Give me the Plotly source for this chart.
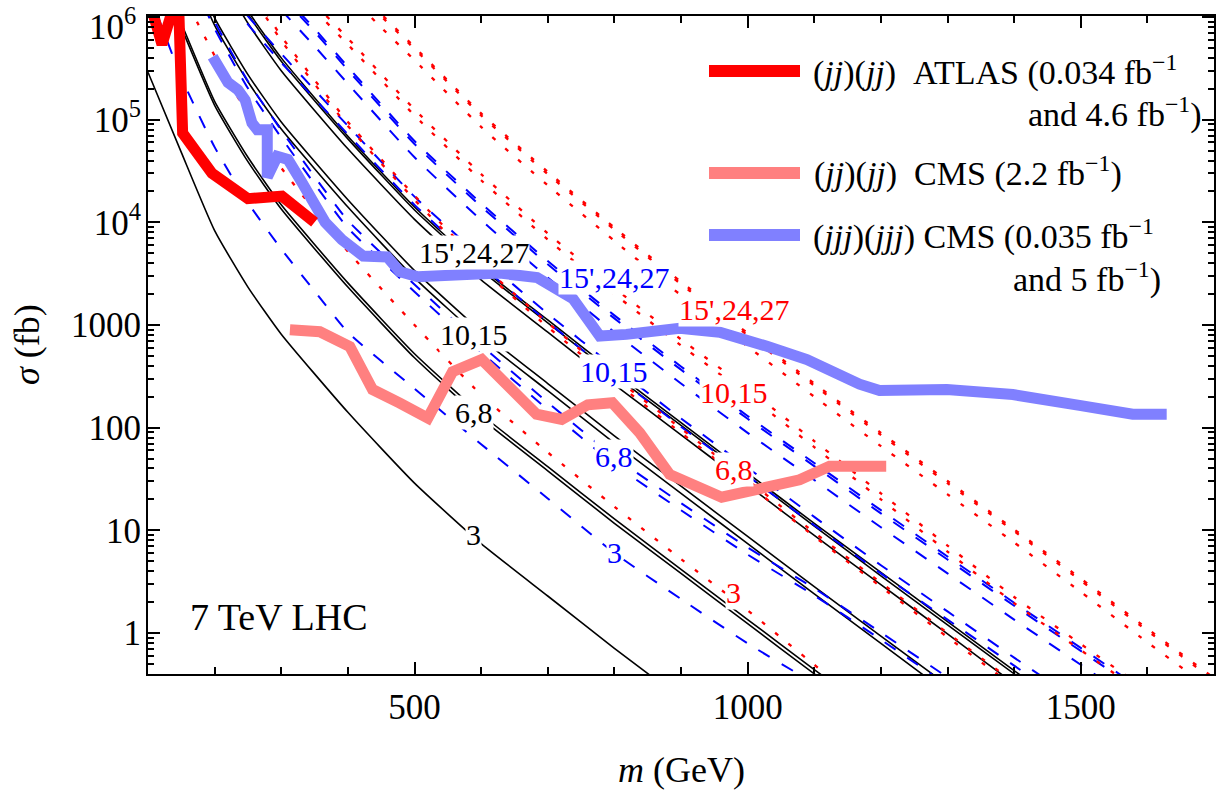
import math
import plotly.graph_objects as go

FONT = "Liberation Serif, Times New Roman, serif"

# ---------------- data ----------------
# Black solid curves
B3_m = [100, 150, 200, 250, 300, 400, 500, 600, 700, 800, 900]
B3_s = [2.9e5, 4.8e4, 8.3e3, 2.34e3, 813, 141, 28.8, 7.41, 2.29, 0.708, 0.229]

B68_m = [100, 150, 200, 250, 300, 400, 500, 600, 700, 800, 900, 1000, 1100, 1200]
B6_s = [4.8e6, 7.9e5, 1.38e5, 3.9e4, 1.35e4, 2.34e3, 479, 123, 38, 11.7, 3.8, 1.23, 0.40, 0.132]
B8_s = [5.2e6, 8.7e5, 1.51e5, 4.3e4, 1.48e4, 2.57e3, 525, 135, 41.7, 12.9, 4.17, 1.35, 0.44, 0.145]

B1015_m = [150, 200, 250, 300, 400, 500, 600, 700, 800, 900, 1000, 1100, 1200, 1300]
B10_s = [4.8e6, 8.3e5, 2.34e5, 8.1e4, 1.41e4, 2.88e3, 741, 229, 70.8, 22.9, 7.41, 2.40, 0.79, 0.26]
B15_s = [5.6e6, 9.8e5, 2.75e5, 9.5e4, 1.66e4, 3.39e3, 871, 269, 83.2, 26.9, 8.71, 2.82, 0.93, 0.31]

Bhi_m = [200, 250, 300, 400, 500, 600, 700, 800, 900, 1000, 1100, 1200, 1300, 1400, 1500]
B15p_s = [3.1e6, 8.7e5, 3.0e5, 5.2e4, 1.07e4, 2.75e3, 851, 263, 85.1, 27.5, 8.91, 2.95, 0.98, 0.32, 0.105]
B24_s = [3.8e6, 1.07e6, 3.7e5, 6.5e4, 1.32e4, 3.4e3, 1.05e3, 324, 105, 34, 11, 3.6, 1.2, 0.40, 0.135]
B27_s = [4.1e6, 1.15e6, 4.0e5, 6.9e4, 1.41e4, 3.6e3, 1.12e3, 347, 112, 36, 11.7, 3.9, 1.29, 0.43, 0.145]

# Blue dashed curves
BL3_m = [100, 125, 150, 200, 250, 300, 350, 400, 500, 600, 700, 800, 900, 1000, 1100, 1200]
BL3_s = [1.78e6, 6.8e5, 2.57e5, 5.4e4, 1.55e4, 5.5e3, 2.14e3, 850, 240, 69, 20.4, 6.0, 2.14, 0.79, 0.32, 0.117]

BL68_m = [150, 200, 250, 300, 350, 400, 500, 600, 700, 800, 900, 1000, 1100, 1200, 1300, 1400]
BL6_s = [3.8e6, 7.7e5, 2.02e5, 6.7e4, 2.37e4, 8.8e3, 2.11e3, 543, 150, 44, 15.7, 5.8, 2.32, 0.86, 0.31, 0.11]
BL8_s = [4.4e6, 9.0e5, 2.37e5, 7.9e4, 2.79e4, 1.04e4, 2.48e3, 638, 176, 52, 18.4, 6.8, 2.72, 1.01, 0.37, 0.135]

BL1015_m = [200, 250, 300, 400, 500, 600, 700, 800, 900, 1000, 1100, 1200, 1300, 1400, 1500]
BL10_s = [2.3e6, 8.5e5, 3.6e5, 7.2e4, 1.48e4, 3.8e3, 1.07e3, 324, 102, 33.9, 11.2, 3.8, 1.35, 0.48, 0.174]
BL15_s = [2.75e6, 1.02e6, 4.4e5, 8.7e4, 1.78e4, 4.6e3, 1.29e3, 389, 123, 40.7, 13.5, 4.57, 1.62, 0.575, 0.209]

BLhi_m = [300, 350, 400, 500, 600, 700, 800, 900, 1000, 1100, 1200, 1300, 1400, 1500, 1600]
BL15p_s = [1.17e6, 5.2e5, 2.24e5, 4.3e4, 1.05e4, 2.9e3, 850, 269, 89, 30.9, 10.7, 3.8, 1.35, 0.49, 0.178]
BL24_s = [1.6e6, 7.2e5, 3.05e5, 5.8e4, 1.43e4, 3.9e3, 1.16e3, 367, 122, 42.2, 14.6, 5.19, 1.84, 0.668, 0.243]
BL27_s = [1.72e6, 7.7e5, 3.27e5, 6.2e4, 1.53e4, 4.2e3, 1.24e3, 394, 130, 45.2, 15.7, 5.56, 1.97, 0.716, 0.26]

# Red dotted curves
R3_m = [150, 200, 250, 300, 400, 500, 600, 700, 800, 900, 1000, 1100, 1200]
R3_s = [1.78e6, 4.2e5, 1.12e5, 3.4e4, 5.2e3, 1.0e3, 209, 57.5, 17.0, 5.25, 1.66, 0.49, 0.151]

R68_m = [250, 300, 400, 500, 600, 700, 800, 900, 1000, 1100, 1200, 1300, 1400]
R6_s = [1.9e6, 5.9e5, 8.7e4, 1.66e4, 3.55e3, 955, 282, 89, 28.2, 8.7, 2.82, 0.91, 0.30]
R8_s = [2.1e6, 6.5e5, 9.5e4, 1.82e4, 3.9e3, 1.05e3, 309, 98, 30.9, 9.5, 3.09, 1.0, 0.33]

R1015_m = [350, 400, 500, 600, 700, 800, 900, 1000, 1100, 1200, 1300, 1400, 1500, 1600]
R10_s = [1.17e6, 5.4e5, 1.1e5, 2.57e4, 6.8e3, 2.0e3, 631, 209, 64.6, 20, 6.2, 1.95, 0.68, 0.24]
R15_s = [1.35e6, 6.2e5, 1.26e5, 2.95e4, 7.8e3, 2.29e3, 724, 240, 74, 22.9, 7.1, 2.24, 0.78, 0.275]

Rhi_m = [400, 450, 500, 600, 700, 800, 900, 1000, 1100, 1200, 1300, 1400, 1500, 1600, 1700, 1800]
R15p_s = [1.7e6, 7.9e5, 3.8e5, 8.5e4, 2.29e4, 6.6e3, 1.95e3, 617, 200, 66, 22.4, 7.6, 2.51, 0.81, 0.27, 0.09]
R24_s = [2.2e6, 1.02e6, 4.9e5, 1.1e5, 2.95e4, 8.5e3, 2.5e3, 794, 257, 85, 28.8, 9.8, 3.24, 1.05, 0.347, 0.115]
R27_s = [2.3e6, 1.07e6, 5.1e5, 1.15e5, 3.1e4, 8.9e3, 2.63e3, 832, 269, 89, 30.2, 10.2, 3.39, 1.10, 0.363, 0.12]

# Experimental limits
ATLAS_m = [104, 121, 139, 146, 152, 196, 250, 301, 350]
ATLAS_s = [1.3e6, 5.4e5, 1.3e6, 1.3e6, 7.4e4, 3.0e4, 1.7e4, 1.8e4, 1.0e4]

CMSjj_m = [313, 358, 403, 437, 478, 520, 557, 601, 683, 721, 760, 797, 838, 883, 961, 1078, 1123, 1208]
CMSjj_s = [900, 860, 615, 235, 173, 124, 350, 460, 135, 120, 167, 175, 89, 35, 21, 31, 42, 42]

CMSjjj_m = [197, 220, 235, 246, 256, 264, 279, 279, 294, 310, 331, 351, 366, 391, 423, 459, 478, 505,
            553, 628, 684, 738, 778, 818, 898, 958, 1029, 1089, 1168, 1198, 1299, 1398, 1498, 1578, 1629]
CMSjjj_s = [4.1e5, 2.3e5, 1.95e5, 1.55e5, 9.3e4, 8.0e4, 8.0e4, 2.75e4, 4.4e4, 4.1e4, 2.45e4, 1.4e4, 1.0e4,
            6.8e3, 4.7e3, 4.6e3, 3.3e3, 2.95e3, 3.1e3, 3.2e3, 2.9e3, 1.8e3, 780, 810, 930, 850, 620, 460,
            265, 230, 235, 210, 165, 135, 135]

# Axis ticks
X_TICKS = [500, 1000, 1500]
Y_TICKS = [1, 10, 100, 1000, 1e4, 1e5]
Y_TICK_TEXT = ["1", "10", "100", "1000", "10<sup>4</sup>", "10<sup>5</sup>"]
Y_TOP_TEXT = "10<sup>6</sup>"

# Curve labels: (text, mass, sigma, colour)
LABELS = [
    ("3", 589, 9.06, "black"), ("6,8", 589, 140, "black"),
    ("10,15", 590, 803, "black"), ("15',24,27", 590, 5050, "black"),
    ("3", 800, 6.05, "#0000FF"), ("6,8", 800, 52, "#0000FF"),
    ("10,15", 800, 351, "#0000FF"), ("15',24,27", 800, 2890, "#0000FF"),
    ("3", 979, 2.47, "#FF0000"), ("6,8", 979, 39, "#FF0000"),
    ("10,15", 979, 219, "#FF0000"), ("15',24,27", 980, 1406, "#FF0000"),
]

# ---------------- figure ----------------
fig = go.Figure()


def curve(m, s, color, dash, width, spline=True):
    fig.add_trace(go.Scatter(
        x=m, y=s, mode="lines", hoverinfo="skip", showlegend=False,
        line=dict(color=color, dash=dash, width=width,
                  shape="spline" if spline else "linear", smoothing=0.5)))


BLACK_DASH, BLUE_DASH, RED_DASH = "solid", "13px,14px", "4px,13px"
for m, s in [(B3_m, B3_s), (B68_m, B6_s), (B68_m, B8_s), (B1015_m, B10_s), (B1015_m, B15_s),
             (Bhi_m, B15p_s), (Bhi_m, B24_s), (Bhi_m, B27_s)]:
    curve(m, s, "black", BLACK_DASH, 1.6)
for m, s in [(BL3_m, BL3_s), (BL68_m, BL6_s), (BL68_m, BL8_s), (BL1015_m, BL10_s), (BL1015_m, BL15_s),
             (BLhi_m, BL15p_s), (BLhi_m, BL24_s), (BLhi_m, BL27_s)]:
    curve(m, s, "#0000FF", BLUE_DASH, 2)
for m, s in [(R3_m, R3_s), (R68_m, R6_s), (R68_m, R8_s), (R1015_m, R10_s), (R1015_m, R15_s),
             (Rhi_m, R15p_s), (Rhi_m, R24_s), (Rhi_m, R27_s)]:
    curve(m, s, "#FF0000", RED_DASH, 2.3)

curve(CMSjj_m, CMSjj_s, "#FF8080", "solid", 11, spline=False)
curve(CMSjjj_m, CMSjjj_s, "#8080FF", "solid", 11, spline=False)
curve(ATLAS_m, ATLAS_s, "#FF0000", "solid", 11, spline=False)

annotations = []
for text, m, s, col in LABELS:
    annotations.append(dict(x=m, y=math.log10(s), xref="x", yref="y", text=text, showarrow=False,
                            xanchor="center", yanchor="middle",
                            font=dict(family=FONT, size=30, color=col), bgcolor="white", borderpad=0))

annotations.append(dict(x=160, y=math.log10(1.44), xref="x", yref="y", text="7 TeV LHC", showarrow=False,
                        xanchor="left", yanchor="middle", font=dict(family=FONT, size=38, color="black")))


def px(X):
    return (X - 148) / 1066.0


def py(Y):
    return (674 - Y) / 658.0


# top y tick label, nudged down so it stays inside the page
annotations.append(dict(x=px(137), y=py(1), xref="paper", yref="paper", text=Y_TOP_TEXT,
                        xanchor="right", yanchor="top", showarrow=False, borderpad=0,
                        font=dict(family=FONT, size=35, color="black")))

# axis titles
annotations.append(dict(x=px(681), y=py(770), xref="paper", yref="paper", text="<i>m</i> (GeV)",
                        xanchor="center", yanchor="middle",
                        showarrow=False, font=dict(family=FONT, size=36, color="black")))
annotations.append(dict(x=px(27), y=py(345), xref="paper", yref="paper", text="<i>σ</i> (fb)",
                        xanchor="center", yanchor="middle",
                        textangle=-90, showarrow=False, font=dict(family=FONT, size=36, color="black")))

# legend
LEG = [("#FF0000", 71), ("#FF8080", 173), ("#8080FF", 235)]
shapes = []
for col, Y in LEG:
    shapes.append(dict(type="line", xref="paper", yref="paper", x0=px(709), x1=px(800), y0=py(Y), y1=py(Y),
                       line=dict(color=col, width=12)))
legfont = dict(family=FONT, size=34, color="black")
NB = "\u00a0"
annotations += [
    dict(x=px(811), y=py(70), xref="paper", yref="paper", xanchor="left", yanchor="middle",
         text="(<i>jj</i>)(<i>jj</i>)" + NB + NB + "ATLAS (0.034 fb<sup>−1</sup>", showarrow=False, font=legfont),
    dict(x=px(1204), y=py(113), xref="paper", yref="paper", xanchor="right", yanchor="middle",
         text="and 4.6 fb<sup>−1</sup>)", showarrow=False, font=legfont),
    dict(x=px(812), y=py(172), xref="paper", yref="paper", xanchor="left", yanchor="middle",
         text="(<i>jj</i>)(<i>jj</i>)" + NB + NB + "CMS (2.2 fb<sup>−1</sup>)", showarrow=False, font=legfont),
    dict(x=px(811), y=py(234), xref="paper", yref="paper", xanchor="left", yanchor="middle",
         text="(<i>jjj</i>)(<i>jjj</i>) CMS (0.035 fb<sup>−1</sup>", showarrow=False, font=legfont),
    dict(x=px(1163), y=py(277), xref="paper", yref="paper", xanchor="right", yanchor="middle",
         text="and 5 fb<sup>−1</sup>)", showarrow=False, font=legfont),
]

minor_y = [k * 10 ** d for d in range(-1, 7) for k in range(2, 10) if 0.4 <= k * 10 ** d <= 1e6]
major_y_marks = Y_TICKS + [1e6]

fig.update_layout(
    width=1222, height=792,
    margin=dict(l=148, r=8, t=16, b=118, autoexpand=False),
    plot_bgcolor="white", paper_bgcolor="white",
    showlegend=False,
    annotations=annotations,
    shapes=shapes,
    xaxis=dict(range=[100, 1700], showline=True, linecolor="black", linewidth=2, mirror="ticks",
               automargin=False,
               ticks="inside", ticklen=12, tickwidth=2, tickcolor="black",
               tickvals=X_TICKS, ticktext=[str(v) for v in X_TICKS],
               tickfont=dict(family=FONT, size=35, color="black"), ticklabelstandoff=1,
               ticklabeloverflow="allow",
               showgrid=False, zeroline=False,
               minor=dict(ticks="inside", ticklen=7, tickwidth=1.5, tickcolor="black",
                          dtick=100, tick0=0, showgrid=False)),
    yaxis=dict(type="log", range=[-0.4, 6.01], showline=True, linecolor="black", linewidth=2, mirror="ticks",
               automargin=False,
               ticks="inside", ticklen=12, tickwidth=2, tickcolor="black",
               tickvals=major_y_marks, ticktext=Y_TICK_TEXT + [""],
               tickfont=dict(family=FONT, size=35, color="black"), ticklabelstandoff=-2,
               ticklabeloverflow="allow",
               showgrid=False, zeroline=False,
               minor=dict(ticks="inside", ticklen=6, tickwidth=1.5, tickcolor="black",
                          tickvals=minor_y, showgrid=False)),
)

fig.write_html("out.html")
